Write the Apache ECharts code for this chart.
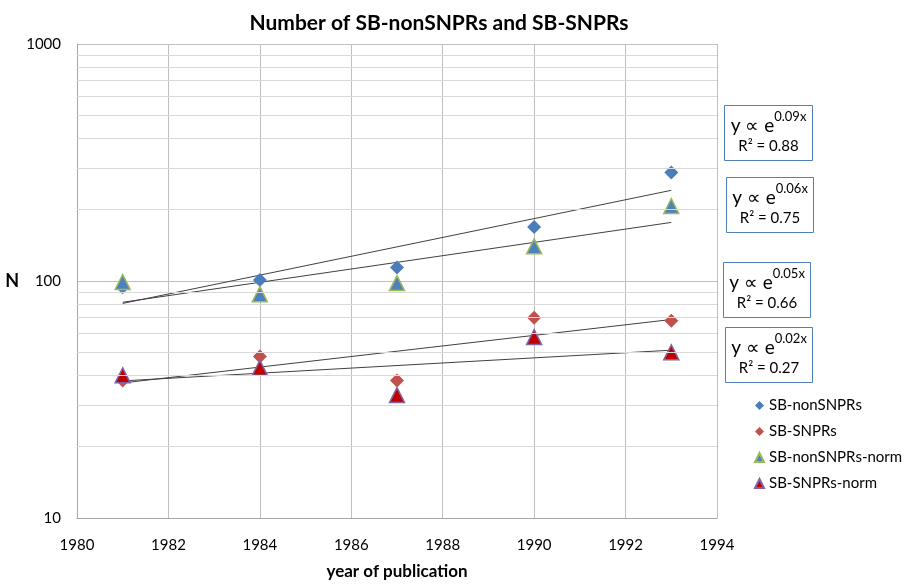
<!DOCTYPE html>
<html>
<head>
<meta charset="utf-8">
<script src="https://cdn.jsdelivr.net/npm/echarts@6/dist/echarts.min.js"></script>
<style>
  html, body { margin: 0; padding: 0; background: #fff; }
  #main { width: 921px; height: 585px; }
</style>
</head>
<body>
<div id="main"></div>
<script>
// data
var years = [1981, 1984, 1987, 1990, 1993];
var nonSNPRs = [94, 101, 114, 169, 287];
var SNPRs = [38, 48, 38, 70, 68];
var nonSNPRsNorm = [99, 88, 98, 140, 207];
var SNPRsNorm = [40, 43, 33, 58, 50];
var minorGrid = [20, 30, 40, 50, 60, 70, 80, 90, 200, 300, 400, 500, 600, 700, 800, 900];
var fitLabels = [
  { k: '0.09x', r: '0.88' },
  { k: '0.06x', r: '0.75' },
  { k: '0.05x', r: '0.66' },
  { k: '0.02x', r: '0.27' }
];

var FONT = 'Lato';
var DIAMOND = 'path://M1,0L2,1L1,2L0,1Z';

// exponential trendline (least squares on ln y), like Excel
function expFit(xs, ys) {
  var n = xs.length, sx = 0, sy = 0, sxx = 0, sxy = 0;
  for (var i = 0; i < n; i++) {
    var ly = Math.log(ys[i]);
    sx += xs[i]; sy += ly; sxx += xs[i] * xs[i]; sxy += xs[i] * ly;
  }
  var b = (n * sxy - sx * sy) / (n * sxx - sx * sx);
  var a = (sy - b * sx) / n;
  var x0 = xs[0], x1 = xs[n - 1];
  return [[x0, Math.exp(a + b * x0)], [x1, Math.exp(a + b * x1)]];
}

function pts(ys) {
  return years.map(function (x, i) { return [x, ys[i]]; });
}

function trend(ys) {
  return {
    type: 'line', data: expFit(years, ys), symbol: 'none', silent: true,
    lineStyle: { color: '#404040', width: 1 }, z: 2
  };
}

var myChart = echarts.init(document.getElementById('main'));

var boxes = [
  { x: 724, y: 105, w: 88, h: 55 },
  { x: 726, y: 177, w: 87, h: 55 },
  { x: 723, y: 262, w: 87, h: 55 },
  { x: 725, y: 327, w: 87, h: 55 }
];
var graphics = boxes.map(function (b, i) {
  return {
    type: 'group', left: b.x, top: b.y,
    children: [
      { type: 'rect', shape: { x: 0, y: 0, width: b.w, height: b.h },
        style: { fill: '#fff', stroke: '#4f81bd', lineWidth: 1 } },
      { type: 'text', x: b.w / 2, y: 5,
        style: {
          text: '{a|y ∝ e}{s|' + fitLabels[i].k + '}\n{r|R² = ' + fitLabels[i].r + '}',
          align: 'center', verticalAlign: 'top', fill: '#000',
          rich: {
            a: { fontFamily: FONT, fontSize: 19, lineHeight: 25, fill: '#000', verticalAlign: 'bottom' },
            s: { fontFamily: FONT, fontSize: 13, lineHeight: 25, fill: '#000', verticalAlign: 'top' },
            r: { fontFamily: FONT, fontSize: 15, lineHeight: 22, fill: '#000' }
          }
        } }
    ]
  };
});

myChart.setOption({
  animation: false,
  title: {
    text: 'Number of SB-nonSNPRs and SB-SNPRs',
    left: 434, top: 8, textAlign: 'center',
    textStyle: { fontFamily: FONT, fontSize: 21, fontWeight: 'bold', color: '#000' }
  },
  legend: {
    orient: 'vertical', left: 749, top: 393, itemGap: 11,
    itemWidth: 9, itemHeight: 9,
    data: ['SB-nonSNPRs', 'SB-SNPRs', 'SB-nonSNPRs-norm', 'SB-SNPRs-norm'],
    textStyle: { fontFamily: FONT, fontSize: 15, color: '#000' }
  },
  grid: { left: 77, top: 44, width: 640, height: 480, containLabel: false },
  xAxis: {
    type: 'value', min: 1980, max: 1994, interval: 2,
    name: 'year of publication', nameLocation: 'middle', nameGap: 45,
    nameMoveOverlap: false,
    nameTextStyle: { fontFamily: FONT, fontSize: 17, fontWeight: 'bold', color: '#000' },
    axisLine: { lineStyle: { color: '#a6a6a6' } },
    axisTick: { show: false },
    axisLabel: { fontFamily: FONT, fontSize: 15, color: '#000', margin: 20,
      formatter: function (v) { return String(v); } },
    splitLine: { show: true, lineStyle: { color: '#bfbfbf', width: 1 } }
  },
  yAxis: {
    type: 'log', logBase: 10, min: 10, max: 1000,
    name: 'N', nameLocation: 'middle', nameGap: 58, nameRotate: 0,
    nameMoveOverlap: false,
    nameTextStyle: { fontFamily: FONT, fontSize: 18, fontWeight: 'bold', color: '#000' },
    axisLine: { show: true, lineStyle: { color: '#a6a6a6' } },
    axisTick: { show: false },
    axisLabel: { fontFamily: FONT, fontSize: 15, color: '#000', margin: 16,
      formatter: function (v) { return String(Math.round(v)); } },
    splitLine: { show: true, lineStyle: { color: '#bfbfbf', width: 1 } }
  },
  graphic: graphics,
  series: [
    {
      name: 'grid-minor', type: 'line', data: [], silent: true,
      markLine: {
        silent: true, symbol: 'none', label: { show: false },
        lineStyle: { color: '#d9d9d9', width: 1, type: 'solid' },
        data: minorGrid.map(function (v) { return { yAxis: v }; })
      }
    },
    trend(nonSNPRs), trend(nonSNPRsNorm), trend(SNPRs), trend(SNPRsNorm),
    {
      name: 'SB-nonSNPRs', type: 'scatter', symbol: DIAMOND, symbolSize: 14,
      data: pts(nonSNPRs), itemStyle: { color: '#4a7ebb', opacity: 1 }, z: 3
    },
    {
      name: 'SB-SNPRs', type: 'scatter', symbol: DIAMOND, symbolSize: 14,
      data: pts(SNPRs), itemStyle: { color: '#c0504d', opacity: 1 }, z: 3
    },
    {
      name: 'SB-nonSNPRs-norm', type: 'scatter', symbol: 'triangle', symbolSize: 15,
      data: pts(nonSNPRsNorm),
      itemStyle: { color: '#4f81bd', borderColor: '#9bbb59', borderWidth: 1.5, opacity: 1 }, z: 4
    },
    {
      name: 'SB-SNPRs-norm', type: 'scatter', symbol: 'triangle', symbolSize: 15,
      data: pts(SNPRsNorm),
      itemStyle: { color: '#c00000', borderColor: '#8064a2', borderWidth: 1.5, opacity: 1 }, z: 4
    }
  ]
});
</script>
</body>
</html>
